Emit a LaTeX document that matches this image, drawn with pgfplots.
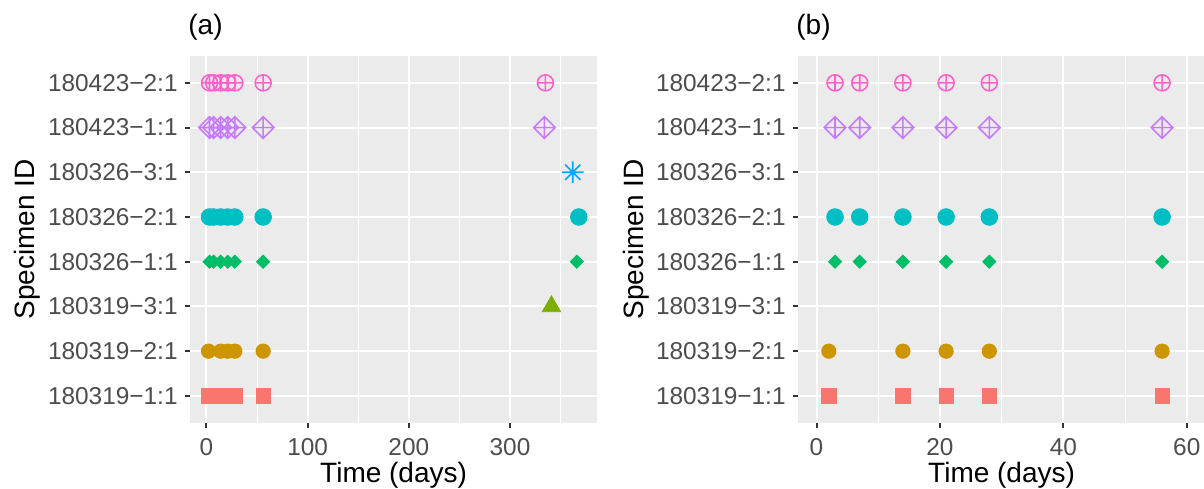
\documentclass[border=0pt]{standalone}
\usepackage{fontspec}
\setmainfont{Liberation Sans}
\usepackage{pgfplots}
\usepackage{pgfplotstable}
\pgfplotsset{compat=1.18}
\usetikzlibrary{plotmarks}

\definecolor{cA}{HTML}{F8766D}
\definecolor{cB}{HTML}{CD9600}
\definecolor{cC}{HTML}{7CAE00}
\definecolor{cD}{HTML}{00BE67}
\definecolor{cE}{HTML}{00BFC4}
\definecolor{cF}{HTML}{00A9FF}
\definecolor{cG}{HTML}{C77CFF}
\definecolor{cH}{HTML}{FF61CC}
\definecolor{ggbg}{HTML}{EBEBEB}
\definecolor{ticktext}{HTML}{4D4D4D}
\definecolor{tickline}{HTML}{333333}

\pgfdeclareplotmark{dplus}{%
  \pgfpathmoveto{\pgfqpoint{0pt}{\pgfplotmarksize}}%
  \pgfpathlineto{\pgfqpoint{\pgfplotmarksize}{0pt}}%
  \pgfpathlineto{\pgfqpoint{0pt}{-\pgfplotmarksize}}%
  \pgfpathlineto{\pgfqpoint{-\pgfplotmarksize}{0pt}}%
  \pgfpathclose
  \pgfpathmoveto{\pgfqpoint{-\pgfplotmarksize}{0pt}}%
  \pgfpathlineto{\pgfqpoint{\pgfplotmarksize}{0pt}}%
  \pgfpathmoveto{\pgfqpoint{0pt}{-\pgfplotmarksize}}%
  \pgfpathlineto{\pgfqpoint{0pt}{\pgfplotmarksize}}%
  \pgfusepathqstroke}
\pgfdeclareplotmark{fdiamond}{%
  \pgfpathmoveto{\pgfqpoint{0pt}{\pgfplotmarksize}}%
  \pgfpathlineto{\pgfqpoint{\pgfplotmarksize}{0pt}}%
  \pgfpathlineto{\pgfqpoint{0pt}{-\pgfplotmarksize}}%
  \pgfpathlineto{\pgfqpoint{-\pgfplotmarksize}{0pt}}%
  \pgfpathclose
  \pgfusepathqfill}
\pgfdeclareplotmark{star8}{%
  \pgfpathmoveto{\pgfqpoint{-\pgfplotmarksize}{0pt}}%
  \pgfpathlineto{\pgfqpoint{\pgfplotmarksize}{0pt}}%
  \pgfpathmoveto{\pgfqpoint{0pt}{-\pgfplotmarksize}}%
  \pgfpathlineto{\pgfqpoint{0pt}{\pgfplotmarksize}}%
  \pgfpathmoveto{\pgfqpoint{-0.7071\pgfplotmarksize}{-0.7071\pgfplotmarksize}}%
  \pgfpathlineto{\pgfqpoint{0.7071\pgfplotmarksize}{0.7071\pgfplotmarksize}}%
  \pgfpathmoveto{\pgfqpoint{-0.7071\pgfplotmarksize}{0.7071\pgfplotmarksize}}%
  \pgfpathlineto{\pgfqpoint{0.7071\pgfplotmarksize}{-0.7071\pgfplotmarksize}}%
  \pgfusepathqstroke}

% Specimen data: time (days), row (1 = 180319-1:1 ... 8 = 180423-2:1)
\pgfplotstableread{
x y
2 1
14 1
21 1
28 1
56 1
}\sA
\pgfplotstableread{
x y
2 2
14 2
21 2
28 2
56 2
}\sB
\pgfplotstableread{
x y
341 3
}\sC
\pgfplotstableread{
x y
3 4
7 4
14 4
21 4
28 4
56 4
366 4
}\sD
\pgfplotstableread{
x y
3 5
7 5
14 5
21 5
28 5
56 5
368 5
}\sE
\pgfplotstableread{
x y
362 6
}\sF
\pgfplotstableread{
x y
3 7
7 7
14 7
21 7
28 7
56 7
334 7
}\sG
\pgfplotstableread{
x y
3 8
7 8
14 8
21 8
28 8
56 8
335 8
}\sH

\pgfplotsset{
  ggpanel/.style={
    scale only axis,
    width=203.65pt, height=183.35pt,
    anchor=south west,
    ymin=0.4, ymax=8.6,
    ytick={1,2,3,4,5,6,7,8},
    yticklabels={180319−1:1,180319−2:1,180319−3:1,180326−1:1,180326−2:1,180326−3:1,180423−1:1,180423−2:1},
    axis background/.style={fill=ggbg},
    axis line style={draw=none},
    grid=both,
    major grid style={white, line width=1pt},
    minor grid style={white, line width=0.5pt},
    tick align=outside,
    major tick length=2.5pt,
    minor tick length=0pt,
    tick style={tickline, line width=1pt},
    xtick pos=bottom, ytick pos=left,
    /pgf/number format/assume math mode=true,
    ticklabel style={font=\fontsize{12.2}{14}\selectfont, text=ticktext},
    yticklabel style={anchor=east, inner sep=0pt, xshift=-3.5pt},
    xticklabel style={anchor=north, inner sep=0pt, yshift=-5.15pt},
    clip=true,
  },
  pA/.style={only marks, mark=square*, mark size=3.58pt, color=cA},
  pB/.style={only marks, mark=*, mark size=3.6pt, color=cB},
  pC/.style={only marks, mark=triangle*, mark size=5.3pt, color=cC},
  pD/.style={only marks, mark=fdiamond, mark size=3.6pt, color=cD},
  pE/.style={only marks, mark=*, mark size=4.17pt, color=cE},
  pF/.style={only marks, mark=star8, mark size=5.4pt, color=cF, mark options={line width=0.8pt}},
  pG/.style={only marks, mark=dplus, mark size=5.4pt, color=cG, mark options={line width=0.8pt, fill=none}},
  pH/.style={only marks, mark=oplus, mark size=4pt, color=cH, mark options={line width=0.8pt, fill=none}},
}

\begin{document}
\begin{tikzpicture}
\useasboundingbox (0,0) rectangle (602pt,244pt);
\begin{axis}[ggpanel, at={(95pt,32.65pt)},
  xmin=-16.3, xmax=386.3,
  xtick={0,100,200,300}, minor xtick={50,150,250,350}]
\addplot[pA] table[x=x,y=y] {\sA};
\addplot[pB] table[x=x,y=y] {\sB};
\addplot[pC] table[x=x,y=y] {\sC};
\addplot[pD] table[x=x,y=y] {\sD};
\addplot[pE] table[x=x,y=y] {\sE};
\addplot[pF] table[x=x,y=y] {\sF};
\addplot[pG] table[x=x,y=y] {\sG};
\addplot[pH] table[x=x,y=y] {\sH};
\end{axis}
\begin{axis}[ggpanel, at={(399pt,32.65pt)},
  xmin=-3, xmax=63,
  xtick={0,20,40,60}, minor xtick={10,30,50},
  restrict x to domain=-3:63]
\addplot[pA] table[x=x,y=y] {\sA};
\addplot[pB] table[x=x,y=y] {\sB};
\addplot[pD] table[x=x,y=y] {\sD};
\addplot[pE] table[x=x,y=y] {\sE};
\addplot[pG] table[x=x,y=y] {\sG};
\addplot[pH] table[x=x,y=y] {\sH};
\end{axis}
% titles and axis labels
\node[anchor=base west, inner sep=0pt, font=\fontsize{14}{16}\selectfont] at (94pt,226.5pt) {(a)};
\node[anchor=base west, inner sep=0pt, font=\fontsize{14}{16}\selectfont] at (398pt,226.5pt) {(b)};
\node[anchor=base, inner sep=0pt, font=\fontsize{14}{16}\selectfont] at (196.8pt,3pt) {Time (days)};
\node[anchor=base, inner sep=0pt, font=\fontsize{14}{16}\selectfont] at (500.8pt,3pt) {Time (days)};
\node[anchor=base, rotate=90, inner sep=0pt, font=\fontsize{14}{16}\selectfont] at (17.5pt,124.3pt) {Specimen ID};
\node[anchor=base, rotate=90, inner sep=0pt, font=\fontsize{14}{16}\selectfont] at (321.5pt,124.3pt) {Specimen ID};
\end{tikzpicture}
\end{document}
